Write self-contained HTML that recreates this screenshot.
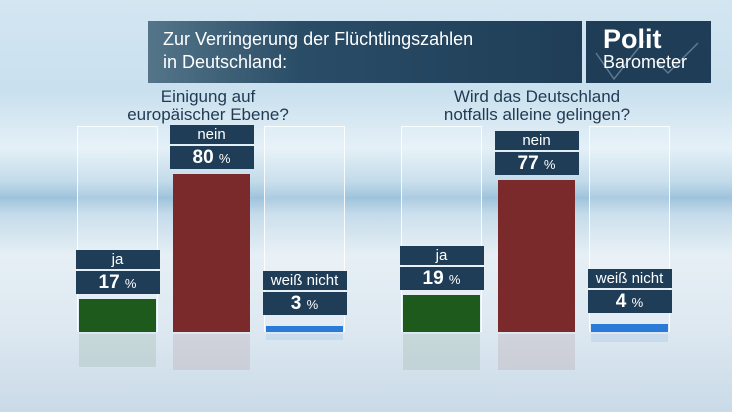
<!DOCTYPE html>
<html><head><meta charset="utf-8">
<style>
body{margin:0;width:732px;height:412px;overflow:hidden;font-family:"Liberation Sans","DejaVu Sans",sans-serif;}
#stage{position:relative;width:732px;height:412px;
background:linear-gradient(180deg,#d3e6f2 0%,#c9e0ee 22%,#e4f0f7 36%,#c2dbea 44%,#9fc3dc 48%,#c4dbea 52%,#e6eff5 62%,#dde8f1 80%,#c9dae7 100%);}
.title{position:absolute;left:148px;top:21px;width:434px;height:62px;background:linear-gradient(90deg,#547589 0%,#2a4d67 35%,#1f3d57 100%);color:#fff;font-size:18px;line-height:23px;padding:7px 0 0 15px;box-sizing:border-box}
.logo{position:absolute;left:586px;top:21px;width:125px;height:62px;background:#1f3d57;color:#fff}
.sub{position:absolute;color:#1f3a52;font-size:17px;line-height:17px;text-align:center;width:260px}
.glass{position:absolute;border:1px solid rgba(255,255,255,0.85);background:rgba(255,255,255,0.15);box-sizing:border-box}
.bar{position:absolute}
.refl{position:absolute;opacity:0.1}
.lab{position:absolute;background:#1f3d57;color:#fff;text-align:center;box-sizing:border-box}
.nm{font-size:15px;line-height:19px;height:19px}
.val{font-size:19px;font-weight:bold;line-height:23px;height:23px}
.val small{font-size:13px;font-weight:normal}
</style></head><body>
<div id="stage">
<div class="title">Zur Verringerung der Flüchtlingszahlen<br>in Deutschland:</div>
<div class="logo">
<svg width="125" height="62"><path d="M10 32 L28 58 L58 20" stroke="#5d7a90" stroke-width="1.5" fill="none"/><path d="M70 40 L82 52 L112 22" stroke="#5d7a90" stroke-width="1.5" fill="none"/></svg>
<div style="position:absolute;left:17px;top:4px;font-size:27px;font-weight:bold;line-height:28px">Polit</div>
<div style="position:absolute;left:17px;top:31px;font-size:18px;line-height:20px">Barometer</div>
</div>
<div class="sub" style="left:78px;top:88px;line-height:18px">Einigung auf<br>europäischer Ebene?</div>
<div class="sub" style="left:407px;top:88px;line-height:18px">Wird das Deutschland<br>notfalls alleine gelingen?</div>
</div>
<script>
const categories=["ja","nein","weiß nicht"];
const leftValues=[17,80,3];
const rightValues=[19,77,4];
const colors=["#1e5a1c","#7a2a2a","#2a7ad8"];
const stage=document.getElementById('stage');
const baseY=332, pxPer=1.97;
function y(v){return baseY-v*pxPer;}
const groups=[{vals:leftValues,xs:[79,173,266],key:'left'},{vals:rightValues,xs:[403,498,591],key:'right'}];
groups.forEach(g=>{
 g.vals.forEach((v,i)=>{
  const x=g.xs[i], w=77;
  if(i!==1){
   const gl=document.createElement('div');gl.className='glass';
   
   
   gl.style.left=(x-2)+'px';gl.style.top='126px';gl.style.width=(w+4)+'px';gl.style.height=(baseY-126)+'px';
   stage.appendChild(gl);
  }
  const h=v*pxPer;
  const b=document.createElement('div');b.className='bar';
  
  
  b.style.left=x+'px';b.style.top=y(v)+'px';b.style.width=w+'px';b.style.height=Math.max(h,5)+'px';b.style.background=colors[i];
  stage.appendChild(b);
  const r=document.createElement('div');r.className='refl';
  
  
  r.style.left=x+'px';r.style.top=(baseY+2)+'px';r.style.width=w+'px';r.style.height=Math.min(Math.max(h,5),36)+'px';r.style.background=colors[i];
  stage.appendChild(r);
  const lw=84, lx=x+w/2-lw/2, top=y(v)-(i===2?11:5);
  const vb=document.createElement('div');vb.className='lab val';
  
  
  vb.style.left=lx+'px';vb.style.top=(top-23)+'px';vb.style.width=lw+'px';
  vb.innerHTML=v+' <small>%</small>';
  stage.appendChild(vb);
  const nb=document.createElement('div');nb.className='lab nm';
  
  
  nb.style.left=lx+'px';nb.style.top=(top-44)+'px';nb.style.width=lw+'px';
  nb.textContent=categories[i];
  stage.appendChild(nb);
 });
});
</script>
</body></html>
